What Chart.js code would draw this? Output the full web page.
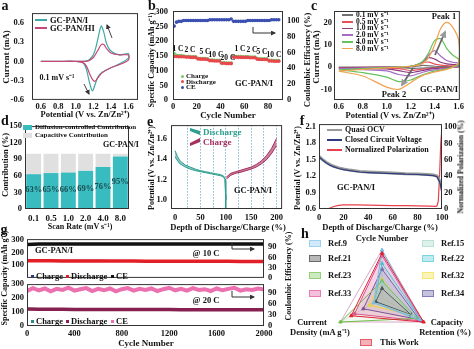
<!DOCTYPE html>
<html><head><meta charset="utf-8">
<script src="https://cdn.jsdelivr.net/npm/chart.js@4.4.1/dist/chart.umd.min.js"></script>
<style>
html,body{margin:0;padding:0;background:#fff}
#fig{position:relative;width:474px;height:349px;overflow:hidden;font-family:'Liberation Serif','Times New Roman',serif;font-weight:bold;color:#111}
#fig canvas{position:absolute}
.t{position:absolute;white-space:nowrap;line-height:1}
.s{position:absolute}
</style></head><body><div id="fig"></div>
<script>
// (a) CV at 0.1 mV/s, loop forward then back
const aVolt = [0.6,0.8,1.0,1.1,1.15,1.2,1.23,1.26,1.29,1.32,1.35,1.4,1.5,1.6,1.6,1.5,1.4,1.3,1.25,1.22,1.19,1.16,1.12,1.08,1.0,0.8,0.6];
const aCurI = [0,0,0,0,0.02,0.1,0.22,0.4,0.55,0.45,0.28,0.16,0.1,0.12,0.05,-0.04,-0.1,-0.17,-0.25,-0.36,-0.46,-0.35,-0.12,-0.02,0,0,0];
const aCurHI = [0,0,0,0,0.01,0.06,0.12,0.19,0.26,0.26,0.2,0.13,0.1,0.1,0.02,-0.05,-0.1,-0.18,-0.26,-0.31,-0.28,-0.2,-0.07,-0.02,0,0,0];
const aTickX = [0.6,0.8,1.0,1.2,1.4,1.6];
const aTickY = [-0.6,-0.3,0,0.3,0.6];

// (b) rate test
const bCycle = [1,3,5,7,9,11,13,15,17,19,21,23,25,27,29,31,33,35,37,39,41,43,45,47,49,51,53,55,57,59,61,63,65,67,69,71,73,75,77,79,81,83,85,87,89];
const bCharge = [158,152,151,151,150,148,148,147,147,147,142,141,141,141,140,136,136,135,135,135,127,127,126,126,126,149,148,148,148,147,147,147,146,146,146,141,140,140,140,140,135,135,134,134,134];
const bDischarge = [148,148,147,147,147,146,146,145,145,145,140,139,139,139,138,134,134,133,133,133,125,125,124,124,124,146,146,145,145,145,145,145,144,144,144,139,138,138,138,138,133,133,132,132,132];
const bCE = [93,98,99,99,100,100,100,100,100,100,100,100,100,100,100,101,101,101,101,101,101,101,101,101,102,99,99,99,99,99,99,100,100,100,100,100,100,100,100,100,100,101,101,101,101];
const bRates = ['1 C','2 C','5 C','10 C','20 C','1 C','2 C','5 C','10 C'];

// (c) CV at several scan rates; rev arrays run 1.6 -> 0.6
const cGrid = [0.6,0.8,1.0,1.1,1.2,1.25,1.3,1.35,1.4,1.45,1.5,1.55,1.6];
const cRates = ['0.1','0.5','1.0','2.0','4.0','8.0'];
const cFwd01 = [0,0,0,0,0.1,0.4,0.8,0.6,0.4,0.3,0.3,0.3,0.3];
const cRev01 = [0.1,0,-0.1,-0.1,-0.2,-0.3,-0.4,-0.5,-0.6,-0.2,-0.05,0,0];
const cFwd05 = [-0.2,-0.1,0,0.05,0.3,1.0,2.0,2.3,1.4,0.9,0.7,0.6,0.6];
const cRev05 = [0.2,0,-0.2,-0.3,-0.4,-0.6,-0.9,-1.2,-1.5,-0.7,-0.4,-0.3,-0.2];
const cFwd10 = [-0.4,-0.2,0,0.05,0.3,0.9,2.2,4.3,3.6,2.2,1.5,1.2,1.0];
const cRev10 = [0.3,0,-0.3,-0.5,-0.7,-1.0,-1.5,-2.0,-2.5,-1.6,-0.8,-0.6,-0.4];
const cFwd20 = [-0.7,-0.3,0,0.1,0.4,1.0,2.4,5.5,7.4,5.0,3.0,2.2,1.8];
const cRev20 = [0.5,0,-0.5,-0.8,-1.2,-1.6,-2.3,-3.2,-3.9,-3.3,-1.7,-1.1,-0.7];
const cFwd40 = [-1.2,-0.6,-0.1,0.1,0.5,1.1,2.6,6.5,12.0,12.8,8.5,5.5,3.5];
const cRev40 = [1.0,0,-0.8,-1.3,-1.8,-2.5,-3.5,-4.6,-5.8,-6.5,-4.5,-2.5,-1.2];
const cFwd80 = [-1.8,-1.0,-0.3,0,0.4,0.8,1.6,4.4,10.0,17.4,20.2,18.0,12.0];
const cRev80 = [2.0,0,-1.0,-1.6,-2.2,-2.9,-3.7,-5.2,-7.0,-10.0,-9.0,-4.0,-1.8];
const cTickX = [0.6,0.8,1.0,1.2,1.4,1.6];
const cTickY = [-10,0,10,20];

// (d) contributions
const dRates = ['0.1','0.5','1.0','2.0','4.0','8.0'];
const dDiff = [63,65,66,69,76,95];
const dCap = [37,35,34,31,24,5];
const dTickY = [0,30,60,90,120,150];

// (e) discharge / charge profile bands
const eDisX = [0,5,10,20,30,40,50,60,70,80,90,95,98,99.5,100];
const eDisHi = [1.48,1.42,1.38,1.34,1.32,1.30,1.285,1.275,1.265,1.255,1.245,1.235,1.215,1.19,1.0];
const eDisLo = [1.42,1.38,1.35,1.32,1.30,1.285,1.275,1.265,1.255,1.245,1.235,1.225,1.2,1.05,0.9];
const eChX = [101,105,110,120,130,140,150,160,170,180,190,195,200];
const eChHi = [1.22,1.24,1.26,1.275,1.29,1.305,1.32,1.345,1.38,1.43,1.5,1.55,1.6];
const eChLo = [1.2,1.22,1.24,1.26,1.27,1.285,1.3,1.32,1.35,1.39,1.45,1.49,1.53];
const eTickX = [0,25,50,75,100,125,150,175,200];
const eTickY = [1.0,1.2,1.4,1.6];

// (f) OCV / CCV / polarization
const fX = [0,3,6,9,12,16,20,25,33,40,50,60,70,80,88,93,96,98,99,100];
const fOCV = [1.56,1.5,1.45,1.41,1.38,1.35,1.33,1.31,1.285,1.275,1.265,1.255,1.245,1.24,1.23,1.22,1.2,1.12,1.04,0.94];
const fCCV = [1.55,1.49,1.44,1.4,1.37,1.34,1.32,1.3,1.275,1.265,1.255,1.245,1.235,1.23,1.22,1.21,1.19,1.1,1.02,0.92];
const fPolX = [0,5,8,12,16,20,30,40,50,60,70,80,90,95,96,97,98,99,100];
const fPol = [0,0,0.5,3,4.5,5,5,4.8,4.5,4.2,4,3.8,3.5,3.3,4,10,40,80,100];
const fTickX = [0,20,40,60,80,100];
const fTickY = [0.6,0.9,1.2,1.5,1.8,2.1];
const fTickY2 = [0,20,40,60,80,100];

// (g) long cycling, sampled every 100 cycles
const gCycle = [1,100,200,300,400,500,600,700,800,900,1000,1100,1200,1300,1400,1500,1600,1700,1800,1900,2000];
const g10CE = [98,99.5,99.6,99.5,99.7,99.6,99.6,99.7,99.5,99.6,99.7,99.6,99.5,99.6,99.7,99.6,99.5,99.6,99.7,99.6,99.6];
const g10Ch = [138,137,136,136,135,135,135,134,134,134,134,133,133,133,133,132,132,132,132,131,131];
const g10Dis = [136,135,135,134,134,134,133,133,133,133,132,132,132,132,131,131,131,131,130,130,130];
const g20Ch = [123,122,122,121,121,121,120,120,120,120,119,119,119,119,119,118,118,118,118,117,117];
const g20Dis = [121,120,120,120,119,119,119,119,118,118,118,118,118,117,117,117,117,117,116,116,116];
const gCycleFine = [1,50,100,150,200,250,300,350,400,450,500,550,600,650,700,750,800,850,900,950,1000,1050,1100,1150,1200,1250,1300,1350,1400,1450,1500,1550,1600,1650,1700,1750,1800,1850,1900,1950,2000];
const g20CE = [96,104,98,103,95,102,99,105,97,101,104,96,102,98,103,95,101,104,97,102,99,103,96,101,105,98,102,97,104,99,101,96,103,98,102,105,97,101,99,103,100];
const gTickX = [0,400,800,1200,1600,2000];
const gTickY = [0,100,200,300];
const gTickY2 = [0,30,60,90];

// (h) radar, normalised: cycle number, capacity retention, current density
const hAxes = ['Cycle Number', 'Capacity Retention (%)', 'Current Density (mA g⁻¹)'];
const hThisWork = [0.93, 1.0, 0.74];
const hRef9 = [1.0, 0.92, 0.2];
const hRef15 = [0.3, 0.75, 0.2];
const hRef21 = [0.2, 0.7, 0.15];
const hRef22 = [0.72, 0.95, 0.18];
const hRef23 = [0.35, 0.85, 1.0];
const hRef32 = [0.4, 0.7, 0.3];
const hRef33 = [0.88, 0.96, 0.66];
const hRef34 = [0.6, 0.9, 0.45];

const fig = document.getElementById('fig');

Chart.defaults.font.family = "'Liberation Serif', 'Times New Roman', serif";
Chart.defaults.font.size = 8.5;
Chart.defaults.font.weight = 'bold';
Chart.defaults.color = '#111';
Chart.defaults.animation = false;
Chart.defaults.responsive = false;
Chart.defaults.maintainAspectRatio = false;
Chart.defaults.devicePixelRatio = 1;
Chart.defaults.plugins.legend.display = false;
Chart.defaults.plugins.tooltip.enabled = false;
Chart.defaults.elements.point.radius = 0;
Chart.defaults.elements.line.borderWidth = 1.2;

Chart.register({
    id: 'frame',
    afterDraw(c) {
        if (c.config.type === 'radar') return;
        const a = c.chartArea, x = c.ctx;
        x.save();
        x.strokeStyle = '#333';
        x.lineWidth = 1;
        x.strokeRect(a.left + 0.5, a.top + 0.5, a.right - a.left - 1, a.bottom - a.top - 1);
        x.restore();
    }
});

function place(x, y, w, h) {
    const c = document.createElement('canvas');
    c.width = w; c.height = h;
    c.style.left = x + 'px'; c.style.top = y + 'px';
    c.style.width = w + 'px'; c.style.height = h + 'px';
    fig.appendChild(c);
    return c.getContext('2d');
}

// box = plot area in page pixels, m = room around it for axes
function chartAt(box, m, cfg) {
    const x0 = box.l - m.l, y0 = box.t - m.t;
    const ctx = place(x0, y0, box.r - box.l + m.l + m.r, box.b - box.t + m.t + m.b);
    const pad = { top: m.t, left: m.l, right: m.r, bottom: m.b };
    const sc = cfg.options.scales || {};
    for (const k in sc) {
        const s = sc[k];
        if (s.display === false) continue;
        const side = s.position || (k[0] === 'x' ? 'bottom' : 'left');
        const size = { bottom: m.b, top: m.t, left: m.l, right: m.r }[side];
        pad[side] = 0;
        s.afterFit = f => { if (f.isHorizontal()) f.height = size; else f.width = size; };
    }
    cfg.options.layout = { autoPadding: false, padding: pad };
    const ch = new Chart(ctx, cfg);
    ch.$x = x0; ch.$y = y0;
    return ch;
}

function lin(min, max, ticks, dec, pad) {
    return {
        type: 'linear', min: min, max: max,
        grid: { display: false, drawTicks: false }, border: { display: false },
        afterBuildTicks: s => { s.ticks = ticks.map(v => ({ value: v })); },
        ticks: { autoSkip: false, maxRotation: 0, padding: pad === undefined ? 3 : pad, callback: v => v.toFixed(dec) }
    };
}

function pts(xs, ys) { return xs.map((v, i) => ({ x: v, y: ys[i] })); }

function txt(s, x, y, o) {
    o = o || {};
    const d = document.createElement('div');
    d.className = 't';
    d.textContent = s;
    d.style.left = x + 'px'; d.style.top = y + 'px';
    d.style.fontSize = (o.size || 9) + 'px';
    if (o.color) d.style.color = o.color;
    const ax = o.align === 'left' ? '0' : o.align === 'right' ? '-100%' : '-50%';
    d.style.transform = 'translate(' + ax + ',-50%)' + (o.rot ? ' rotate(-90deg)' : '');
    fig.appendChild(d);
}

function sw(x, y, w, h, color, css) {
    const d = document.createElement('div');
    d.className = 's';
    d.style.cssText = `left:${x}px;top:${y}px;width:${w}px;height:${h}px;background:${color};` + (css || '');
    fig.appendChild(d);
}

function right(ax) { ax.position = 'right'; return ax; }

// ---------- (a)
chartAt({ l: 32, t: 11, r: 138, b: 100 }, { l: 32, r: 2, t: 11, b: 13 }, {
    type: 'line',
    data: { datasets: [
        { data: pts(aVolt, aCurHI), borderColor: '#c64878', tension: 0.3 },
        { data: pts(aVolt, aCurI), borderColor: '#3fa9a5', tension: 0.3 }
    ] },
    options: { scales: { x: lin(0.5, 1.71, aTickX, 1, 2), y: lin(-0.6, 0.75, aTickY, 1, 8) } }
});

// ---------- (b)
chartAt({ l: 173, t: 11, r: 283, b: 100 }, { l: 18, r: 16, t: 11, b: 13 }, {
    type: 'scatter',
    data: { datasets: [
        { data: pts(bCycle, bCE), yAxisID: 'y1', backgroundColor: '#3a4fb0', borderWidth: 0, pointRadius: 1.8 },
        { data: pts(bCycle, bDischarge), backgroundColor: '#e8474c', borderWidth: 0, pointRadius: 1.8 },
        { data: pts(bCycle, bCharge), backgroundColor: '#7cc46a', borderWidth: 0, pointRadius: 1.8 }
    ] },
    options: { scales: {
        x: lin(0, 92.6, [0, 20, 40, 60, 80], 0, 2),
        y: lin(0, 303, [0, 50, 100, 150, 200, 250, 300], 0, 5),
        y1: right(lin(0, 112, [0, 20, 40, 60, 80, 100], 0, 4))
    } }
});

// ---------- (c)
const cColors = ['#707070', '#e8505a', '#8a3c7e', '#a46cc4', '#66c25a', '#f2a24e'];
const cLoops = [[cFwd01, cRev01], [cFwd05, cRev05], [cFwd10, cRev10], [cFwd20, cRev20], [cFwd40, cRev40], [cFwd80, cRev80]];
const cGridRev = cGrid.slice().reverse();
chartAt({ l: 334, t: 11, r: 462, b: 100 }, { l: 16, r: 4, t: 11, b: 13 }, {
    type: 'line',
    data: { datasets: cLoops.map((p, i) => ({
        data: pts(cGrid, p[0]).concat(pts(cGridRev, p[1])),
        borderColor: cColors[i], tension: 0.3, order: 6 - i
    })) },
    options: { scales: { x: lin(0.56, 1.61, cTickX, 1, 2), y: lin(-14.8, 25.3, cTickY, 0, 2) } }
});

// ---------- (d)
const dChart = chartAt({ l: 25, t: 122, r: 129, b: 209 }, { l: 25, r: 2, t: 4, b: 15 }, {
    type: 'bar',
    data: { labels: dRates, datasets: [
        { data: dDiff, backgroundColor: '#39bcbf', barPercentage: 0.86, categoryPercentage: 1 },
        { data: dCap, backgroundColor: '#e0e0e0', barPercentage: 0.86, categoryPercentage: 1 }
    ] },
    options: { scales: {
        x: { stacked: true, grid: { display: false, drawTicks: false }, border: { display: false }, ticks: { padding: 4, font: { size: 9 } } },
        y: Object.assign(lin(0, 150, dTickY, 0, 3), { stacked: true })
    } }
});
dChart.getDatasetMeta(0).data.forEach((bar, i) => {
    txt(dDiff[i] + '%', dChart.$x + bar.x, dChart.$y + dChart.scales.y.getPixelForValue(dDiff[i] / 2 + 4), { size: 8.5, color: '#1b4d52' });
});

// ---------- (e)
const eX = lin(-8, 211, eTickX, 0, 4);
eX.ticks.callback = v => (v % 50 === 0 ? String(v) : '');
eX.grid = { display: true, drawTicks: false, lineWidth: 1, color: c => (c.tick && c.tick.value > 0 ? '#86b9d4' : 'rgba(0,0,0,0)') };
eX.border = { display: false, dash: [1.5, 1.5] };
chartAt({ l: 171, t: 120, r: 285, b: 209 }, { l: 16, r: 2, t: 4, b: 15 }, {
    type: 'line',
    data: { datasets: [
        { data: pts(eDisX, eDisHi), borderColor: '#2f9e8f', borderWidth: 1, fill: '+1', backgroundColor: 'rgba(47,158,143,0.55)' },
        { data: pts(eDisX, eDisLo), borderColor: '#2f9e8f', borderWidth: 1 },
        { data: pts(eChX, eChHi), borderColor: '#a5305f', borderWidth: 1, fill: '+1', backgroundColor: 'rgba(165,48,95,0.6)' },
        { data: pts(eChX, eChLo), borderColor: '#a5305f', borderWidth: 1 }
    ] },
    options: { scales: { x: eX, y: lin(0.91, 1.73, eTickY, 1, 4) } }
});

// ---------- (f)
chartAt({ l: 319, t: 120, r: 442, b: 209 }, { l: 16, r: 22, t: 4, b: 15 }, {
    type: 'line',
    data: { datasets: [
        { data: pts(fX, fCCV), borderColor: '#2d3c7c', borderWidth: 1.2 },
        { data: pts(fX, fOCV), borderColor: '#9a9a9a', borderWidth: 3 },
        { data: pts(fPolX, fPol), borderColor: '#e8404c', borderWidth: 1.2, yAxisID: 'y1' }
    ] },
    options: { scales: {
        x: lin(0, 100, fTickX, 0, 4),
        y: lin(0.6, 2.15, fTickY, 1, 3),
        y1: right(lin(0, 103.5, fTickY2, 0, 2))
    } }
});

// ---------- (g) top @10 C
chartAt({ l: 27, t: 234, r: 264, b: 281 }, { l: 22, r: 17, t: 4, b: 6 }, {
    type: 'line',
    data: { datasets: [
        { data: pts(gCycle, g10CE), yAxisID: 'y1', borderColor: '#111', borderWidth: 3.5 },
        { data: pts(gCycle, g10Dis), borderColor: '#e21f26', borderWidth: 3.5 },
        { data: pts(gCycle, g10Ch), borderColor: '#2c3e70', borderWidth: 2 }
    ] },
    options: { scales: {
        x: { type: 'linear', min: 0, max: 2000, display: false },
        y: lin(0, 307, [100, 200, 300], 0, 3),
        y1: right(lin(0, 114, gTickY2, 0, 4))
    } }
});
// (g) bottom @20 C
chartAt({ l: 27, t: 281, r: 264, b: 326 }, { l: 22, r: 17, t: 6, b: 15 }, {
    type: 'line',
    data: { datasets: [
        { data: pts(gCycleFine, g20CE), yAxisID: 'y1', borderColor: '#ec6fb0', borderWidth: 4 },
        { data: pts(gCycle, g20Dis), borderColor: '#86204f', borderWidth: 3.5 },
        { data: pts(gCycle, g20Ch), borderColor: '#2b8a83', borderWidth: 2 }
    ] },
    options: { scales: {
        x: lin(0, 2000, gTickX, 0, 3),
        y: lin(0, 300, gTickY, 0, 3),
        y1: right(lin(0, 115, gTickY2, 0, 4))
    } }
});

// ---------- (h)
const hSets = [
    ['This Work', hThisWork, '#e02030', 0.04],
    ['Ref.9', hRef9, '#7cc0ea', 0.14],
    ['Ref.15', hRef15, '#9fd8c2', 0.14],
    ['Ref.21', hRef21, '#333333', 0.05],
    ['Ref.22', hRef22, '#49c6d4', 0.12],
    ['Ref.23', hRef23, '#6cc04a', 0.08],
    ['Ref.32', hRef32, '#f0e040', 0.2],
    ['Ref.33', hRef33, '#e04a9a', 0.2],
    ['Ref.34', hRef34, '#5a4fa0', 0.1]
];
function rgba(hex, a) {
    const n = parseInt(hex.slice(1), 16);
    return `rgba(${n >> 16},${(n >> 8) & 255},${n & 255},${a})`;
}
new Chart(place(327, 243, 110, 110), {
    type: 'radar',
    data: { labels: hAxes, datasets: hSets.map(s => ({
        label: s[0], data: s[1], borderColor: s[2], backgroundColor: rgba(s[2], s[3]),
        borderWidth: 1, fill: true, pointRadius: 2, pointStyle: 'triangle', pointBackgroundColor: s[2]
    })) },
    options: {
        layout: { padding: 7 },
        scales: { r: {
            min: 0, max: 1,
            ticks: { display: false },
            pointLabels: { display: false },
            grid: { color: c => (c.tick && c.tick.value === 1 ? '#d7a9c3' : 'rgba(0,0,0,0)') },
            angleLines: { color: 'rgba(0,0,0,0.1)' }
        } }
    }
});

// ---------- text, legends, arrows
txt('a', 5, 6, { size: 14 }); txt('b', 152, 6, { size: 14 }); txt('c', 314, 6, { size: 14 });
txt('d', 5, 121, { size: 14 }); txt('e', 150, 122, { size: 14 }); txt('f', 302, 121, { size: 14 });
txt('g', 4, 230, { size: 14 }); txt('h', 305, 234, { size: 14 });

txt('Current (mA)', 6, 57, { rot: 1, size: 9 });
txt('Potential (V vs. Zn/Zn²⁺)', 85, 114, { size: 8.5 });
txt('Specific Capacity (mAh g⁻¹)', 152, 60, { rot: 1, size: 8 });
txt('Coulombic Efficiency (%)', 307, 60, { rot: 1, size: 8.5 });
txt('Cycle Number', 228, 115, { size: 9 });
txt('Current (mA)', 316, 57, { rot: 1, size: 9 });
txt('Potential (V vs. Zn/Zn²⁺)', 390, 115, { size: 8.5 });
txt('Contribution (%)', 5, 165, { rot: 1, size: 8.5 });
txt('Scan Rate (mV s⁻¹)', 80, 227, { size: 8 });
txt('Potential (V vs. Zn/Zn²⁺)', 152, 168, { rot: 1, size: 8 });
txt('Depth of Discharge/Charge (%)', 228, 227, { size: 8.5 });
txt('Potential (V vs. Zn/Zn²⁺)', 298, 168, { rot: 1, size: 8 });
txt('Normalized Polarization (%)', 461, 167, { rot: 1, size: 7.5 });
txt('Depth of Discharge/Charge (%)', 380, 227, { size: 8.5 });
txt('Specific Capacity (mAh g⁻¹)', 5, 278, { rot: 1, size: 8 });
txt('Coulombic Efficiency (%)', 289, 276, { rot: 1, size: 8 });
txt('Cycle Number', 146, 343, { size: 9 });

// a
sw(35, 19, 12, 1.5, '#3fa9a5'); txt('GC-PAN/I', 50, 20, { align: 'left', size: 8.5 });
sw(35, 27, 12, 1.5, '#c64878'); txt('GC-PAN/HI', 50, 28, { align: 'left', size: 8.5 });
txt('0.1 mV s⁻¹', 57, 78, { size: 8 });
// b
[['Charge', '#7cc46a'], ['Discharge', '#e8474c'], ['CE', '#3a4fb0']].forEach((e, i) => {
    sw(180.5, 74.5 + i * 5.6, 3, 3, e[1], 'border-radius:50%');
    txt(e[0], 186, 76 + i * 5.6, { align: 'left', size: 7 });
});
txt('GC-PAN/I', 254, 83, { size: 8.5 });
const bRatePos = [[178, 49], [190, 50], [205, 52], [216, 55], [228, 58], [240, 49], [252, 50], [262, 52], [274, 55]];
bRates.forEach((r, i) => txt(r, bRatePos[i][0], bRatePos[i][1], { size: 7.5 }));
// c
cRates.forEach((r, i) => {
    sw(342, 14.3 + i * 6.7, 11, 1.5, cColors[i]);
    txt(r + ' mV s⁻¹', 356, 15 + i * 6.7, { align: 'left', size: 7.5 });
});
txt('Peak 1', 444, 16, { size: 8.5 });
txt('Peak 2', 394, 94, { size: 8.5 });
txt('GC-PAN/I', 439, 89, { size: 8.5 });
// d
sw(23, 124.5, 9, 5, '#39bcbf'); txt('Diffusion-controlled Contribution', 35, 127, { align: 'left', size: 7 });
sw(23, 132.5, 9, 5, '#e0e0e0'); txt('Capacitive Contribution', 35, 135, { align: 'left', size: 7 });
txt('GC-PAN/I', 121, 145, { size: 8 });
// e
txt('Discharge', 203, 132, { align: 'left', size: 9, color: '#2f9e8f' });
txt('Charge', 203, 142, { align: 'left', size: 9, color: '#a5305f' });
txt('GC-PAN/I', 253, 190, { size: 8.5 });
// f
[['Quasi OCV', '#9a9a9a'], ['Closed Circuit Voltage', '#2d3c7c'], ['Normalized Polarization', '#e8404c']].forEach((e, i) => {
    sw(327, 129.3 + i * 10, 15, 1.5, e[1]);
    txt(e[0], 345, 130 + i * 10, { align: 'left', size: 8 });
});
txt('GC-PAN/I', 356, 187, { size: 8.5 });
// g
txt('GC-PAN/I', 35, 250, { align: 'left', size: 8.5 });
txt('@ 10 C', 206, 253, { size: 8.5 });
txt('@ 20 C', 206, 300, { size: 8.5 });
const gLeg = [
    [276, [['Charge', '#2c3e70'], ['Discharge', '#e21f26'], ['CE', '#111']]],
    [321, [['Charge', '#2b8a83'], ['Discharge', '#86204f'], ['CE', '#ec6fb0']]]
];
const gLegX = [31, 66, 111];
gLeg.forEach(row => row[1].forEach((e, i) => {
    sw(gLegX[i], row[0] - 1.5, 3, 3, e[1]);
    txt(e[0], gLegX[i] + 5, row[0], { align: 'left', size: 8.5 });
}));
// h
const hLegPos = {
    'Ref.9': [309, 243], 'Ref.21': [309, 258], 'Ref.23': [309, 275], 'Ref.33': [309, 293],
    'Ref.15': [422, 243], 'Ref.22': [422, 258], 'Ref.32': [422, 275], 'Ref.34': [422, 293],
    'This Work': [360, 342]
};
hSets.forEach(s => {
    const p = hLegPos[s[0]];
    sw(p[0], p[1] - 3.5, 12, 7, rgba(s[2], 0.35), 'box-sizing:border-box;border:1px solid ' + rgba(s[2], 0.6));
    txt(s[0], p[0] + (s[0] === 'This Work' ? 20 : 19), p[1], { align: 'left', size: 8.5 });
});
txt('Cycle Number', 382, 238, { size: 8.5 });
txt('Capacity', 447, 322, { size: 8.5 });
txt('Retention (%)', 445, 332, { size: 8.5 });
txt('Current', 312, 322, { size: 8.5 });
txt('Density (mA g⁻¹)', 320, 332, { size: 8.5 });

fig.insertAdjacentHTML('beforeend',
    '<svg width="474" height="349" style="position:absolute;left:0;top:0">' +
    '<defs><marker id="ah" markerWidth="5" markerHeight="5" refX="4" refY="2.5" orient="auto">' +
    '<path d="M0,0 L5,2.5 L0,5 z" fill="#333"/></marker>' +
    '<marker id="ag" markerWidth="4" markerHeight="4" refX="3" refY="2" orient="auto">' +
    '<path d="M0,0 L4,2 L0,4 z" fill="#9a9a9a"/></marker></defs>' +
    '<line x1="112" y1="38" x2="107" y2="25" stroke="#444" stroke-width="1" marker-end="url(#ah)"/>' +
    '<line x1="84" y1="84" x2="89" y2="94" stroke="#444" stroke-width="1" marker-end="url(#ah)"/>' +
    '<line x1="435" y1="55" x2="445" y2="32" stroke="#666" stroke-width="1.8" marker-end="url(#ag)"/>' +
    '<line x1="413" y1="68" x2="402" y2="85" stroke="#666" stroke-width="1.8" marker-end="url(#ag)"/>' +
    '<polyline points="253,27 253,33 275,33" fill="none" stroke="#333" stroke-width="1" marker-end="url(#ah)"/>' +
    '<polyline points="232,243 232,249 254,249" fill="none" stroke="#333" stroke-width="1" marker-end="url(#ah)"/>' +
    '<polyline points="232,291 232,297 254,297" fill="none" stroke="#333" stroke-width="1" marker-end="url(#ah)"/>' +
    '<polygon points="190,128 200,131 200,135 190,131" fill="#2f9e8f"/>' +
    '<polygon points="190,143 200,138 200,142 190,146" fill="#a5305f"/>' +
    '</svg>');
</script></body></html>
